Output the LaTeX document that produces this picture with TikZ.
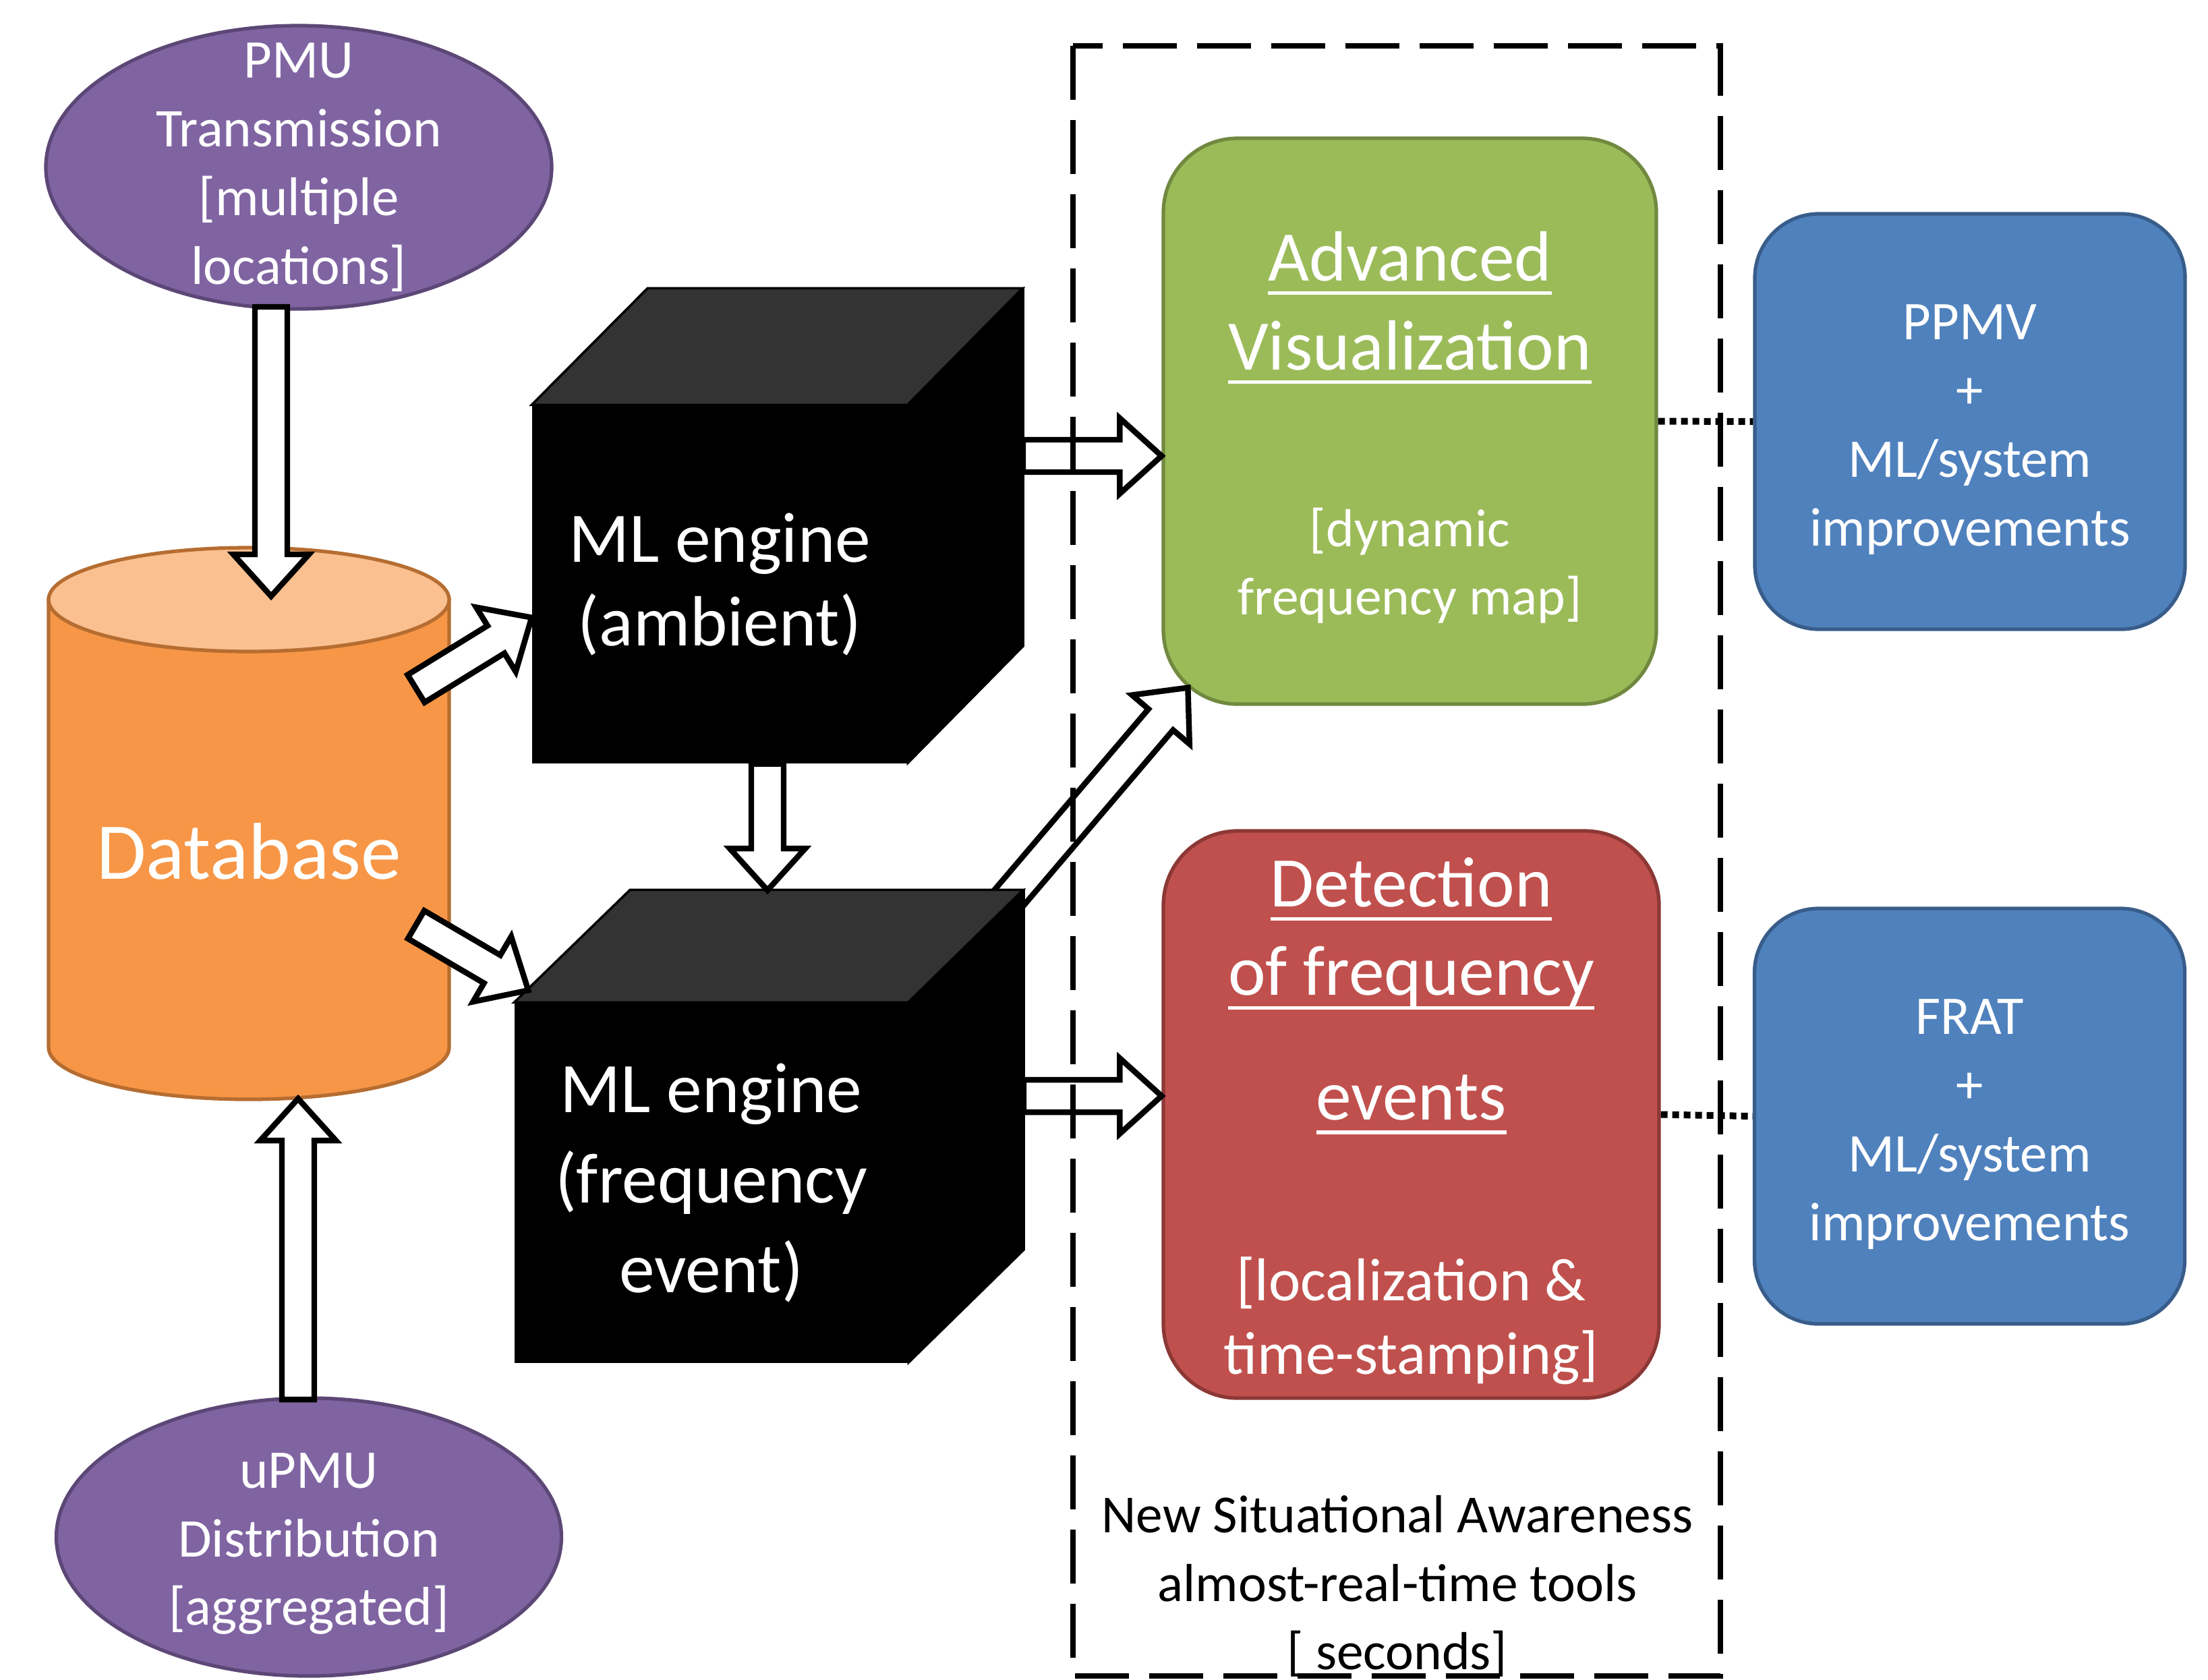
\documentclass[tikz,border=0pt]{standalone}
\usepackage{fontspec}
\setmainfont{Carlito}
\usetikzlibrary{calc,positioning,shapes.geometric}

\definecolor{pmupurple}{HTML}{8064A2}
\definecolor{pmuline}{HTML}{5C4776}
\definecolor{dborange}{HTML}{F79646}
\definecolor{dbtop}{HTML}{FAC090}
\definecolor{dbline}{HTML}{B66D31}
\definecolor{cubetop}{HTML}{333333}
\definecolor{visgreen}{HTML}{9BBB59}
\definecolor{visline}{HTML}{71893F}
\definecolor{detred}{HTML}{C0504D}
\definecolor{detline}{HTML}{8C3836}
\definecolor{toolblue}{HTML}{4F81BD}
\definecolor{toolline}{HTML}{385D8A}

% underline at a fixed depth below the baseline
\newcommand{\ulined}[1]{\setbox0\hbox{#1}\rlap{\vrule height -0.15em depth 0.2em width \wd0}\box0}

% hollow block arrow from #1 to #2
\newcommand{\shaftw}{0.24cm}
\newcommand{\headw}{0.56cm}
\newcommand{\headl}{0.62cm}
\newcommand{\blockarr}[2]{%
  \draw[blockarrow] let \p1=($(#2)-(#1)$), \n1={atan2(\y1,\x1)}, \n2={veclen(\x1,\y1)} in
    ($(#1)+({\n1+90}:\shaftw)$) --
    ($(#1)+(\n1:{\n2-\headl})+({\n1+90}:\shaftw)$) --
    ($(#1)+(\n1:{\n2-\headl})+({\n1+90}:\headw)$) --
    (#2) --
    ($(#1)+(\n1:{\n2-\headl})+({\n1-90}:\headw)$) --
    ($(#1)+(\n1:{\n2-\headl})+({\n1-90}:\shaftw)$) --
    ($(#1)+({\n1-90}:\shaftw)$) -- cycle;}

\tikzset{
  source/.style={ellipse, draw=pmuline, line width=1.5pt, fill=pmupurple, inner sep=0pt,
    minimum width=7.5cm, minimum height=4.2cm},
  sourcetext/.style={text=white, align=center, inner sep=0pt, font=\fontsize{23}{29}\selectfont},
  dbtext/.style={text=white, inner sep=0pt, font=\fontsize{34}{40}\selectfont},
  engine/.style={fill=black, text=white, align=center, inner sep=0pt, font=\fontsize{30}{35.5}\selectfont},
  toolbox/.style={rounded corners=1.1cm, line width=1.5pt, inner sep=0pt},
  bluebox/.style={rounded corners=0.95cm, draw=toolline, fill=toolblue, line width=1.5pt,
    inner sep=0pt, minimum width=6.38cm, minimum height=6.16cm},
  bluetext/.style={text=white, align=center, inner sep=0pt, font=\fontsize{23}{29}\selectfont},
  titletext/.style={text=white, align=center, inner sep=0pt, font=\fontsize{30}{37.5}\selectfont},
  subtext/.style={text=white, align=center, inner sep=0pt, font=\fontsize{22.6}{28.6}\selectfont},
  blockarrow/.style={draw=black, fill=white, line width=2.4pt, line join=miter},
  dotline/.style={line width=0.1cm, dash pattern=on 0.1cm off 0.07cm},
  sabox/.style={line width=0.085cm, dash pattern=on 0.8cm off 0.3cm},
}

\begin{document}
\begin{tikzpicture}
\useasboundingbox (0,0) rectangle (32.74,-24.90);

% database
\filldraw[fill=dborange, draw=dbline, line width=1.5pt] (0.72,-8.89) -- (0.72,-15.53)
  arc[start angle=180, end angle=360, x radius=2.97, y radius=0.77] -- (6.66,-8.89) -- cycle;
\draw[dbline, fill=dbtop, line width=1.5pt] (3.69,-8.89) ellipse [x radius=2.97, y radius=0.77];
\node[dbtext] (db) at (3.69,-12.62) {Database};

% measurement sources
\node[source] (pmu) at (4.43,-2.48) {};
\node[sourcetext] (pmutext) at (pmu) {PMU\\Transmission\\{[}multiple\\locations]};
\node[source, minimum width=7.49cm, minimum height=4.12cm] (upmu) at (4.58,-22.79) {};
\node[sourcetext] (upmutext) at ($(upmu)+(0,-0.1)$) {uPMU\\Distribution\\{[}aggregated]};

% tools
\node[toolbox, draw=visline, fill=visgreen, minimum width=7.31cm, minimum height=8.39cm] (vis) at (20.905,-6.245) {};
\node[titletext, below=1.40cm of vis.north] (vistitle) {\ulined{Advanced}\\\ulined{Visualization}};
\node[subtext, below=5.50cm of vis.north] (vissub) {{[}dynamic\\frequency map]};

\node[toolbox, draw=detline, fill=detred, minimum width=7.35cm, minimum height=8.41cm] (det) at (20.925,-16.525) {};
\node[titletext, below=0.41cm of det.north] (dettitle) {\ulined{Detection}\\\ulined{of frequency}\\[0.53cm]\ulined{events}};
\node[subtext, below=6.34cm of det.north, font=\fontsize{25.5}{31}\selectfont] (detsub) {{[}localization \&\\time-stamping]};

\node[bluebox] (ppmv) at (29.21,-6.25) {};
\node[bluetext] (ppmvtext) at ($(ppmv)+(0,-0.12)$) {PPMV\\+\\ML/system\\improvements};
\node[bluebox] (frat) at (29.205,-16.55) {};
\node[bluetext] (frattext) at ($(frat)+(0,-0.12)$) {FRAT\\+\\ML/system\\improvements};

\draw[dotline] (vis.east) -- (ppmv.west);
\draw[dotline] (det.east) -- (frat.west);

% arrow from the frequency engine, tail hidden behind the cube
\coordinate (fretail) at (14.40,-13.97);
\coordinate (visin2) at ($(vis.south west)+(0.39,0.27)$);
\blockarr{fretail}{visin2}

% ML engines
\node[engine, minimum width=5.56cm, minimum height=5.31cm] (amb) at (10.67,-8.665) {ML engine\\(ambient)};
\filldraw[fill=cubetop, draw=black, line width=1pt] (amb.north west) -- ++(1.72,1.73) -- ++(5.56,0) -- (amb.north east) -- cycle;
\filldraw[black, line width=0.6pt] (amb.north east) -- ++(1.72,1.73) -- ++(0,-5.31) -- (amb.south east) -- cycle;

\node[engine, minimum width=5.83cm, minimum height=5.34cm, font=\fontsize{30}{38}\selectfont] (fre) at (10.545,-17.54) {ML engine\\(frequency\\event)};
\filldraw[fill=cubetop, draw=black, line width=1pt] (fre.north west) -- ++(1.72,1.67) -- ++(5.83,0) -- (fre.north east) -- cycle;
\filldraw[black, line width=0.6pt] (fre.north east) -- ++(1.72,1.67) -- ++(0,-5.34) -- (fre.south east) -- cycle;

% block arrows
\coordinate (pmuout) at (4.02,-4.55);
\coordinate (dbtopin) at (4.02,-8.84);
\coordinate (upmuout) at (4.42,-20.75);
\coordinate (dbbotin) at (4.42,-16.29);
\coordinate (dbr1) at (6.17,-10.21);
\coordinate (dbr2) at (6.17,-13.71);
\coordinate (frein) at ($(fre.north west)+(0.21,0.18)$);
\coordinate (ambdown) at ($(amb.south)+(0.71,0)$);
\coordinate (fretop) at (11.38,-13.20);
\coordinate (ambright) at (15.17,-6.76);
\coordinate (visin) at (vis.west |- ambright);
\coordinate (freright) at (15.18,-16.25);
\coordinate (detin) at (det.west |- freright);

\blockarr{pmuout}{dbtopin}
\blockarr{upmuout}{dbbotin}
\blockarr{dbr1}{amb.190}
\blockarr{dbr2}{frein}
\blockarr{ambdown}{fretop}
\blockarr{ambright}{visin}
\blockarr{freright}{detin}

% situational awareness frame
\draw[sabox] (15.91,-0.68) rectangle (25.51,-24.85);
\node[align=center, inner sep=0pt, font=\fontsize{22.6}{28.8}\selectfont] (sacap) at (20.72,-23.52)
  {New Situational Awareness\\almost-real-time tools\\{[} seconds]};

\end{tikzpicture}
\end{document}
